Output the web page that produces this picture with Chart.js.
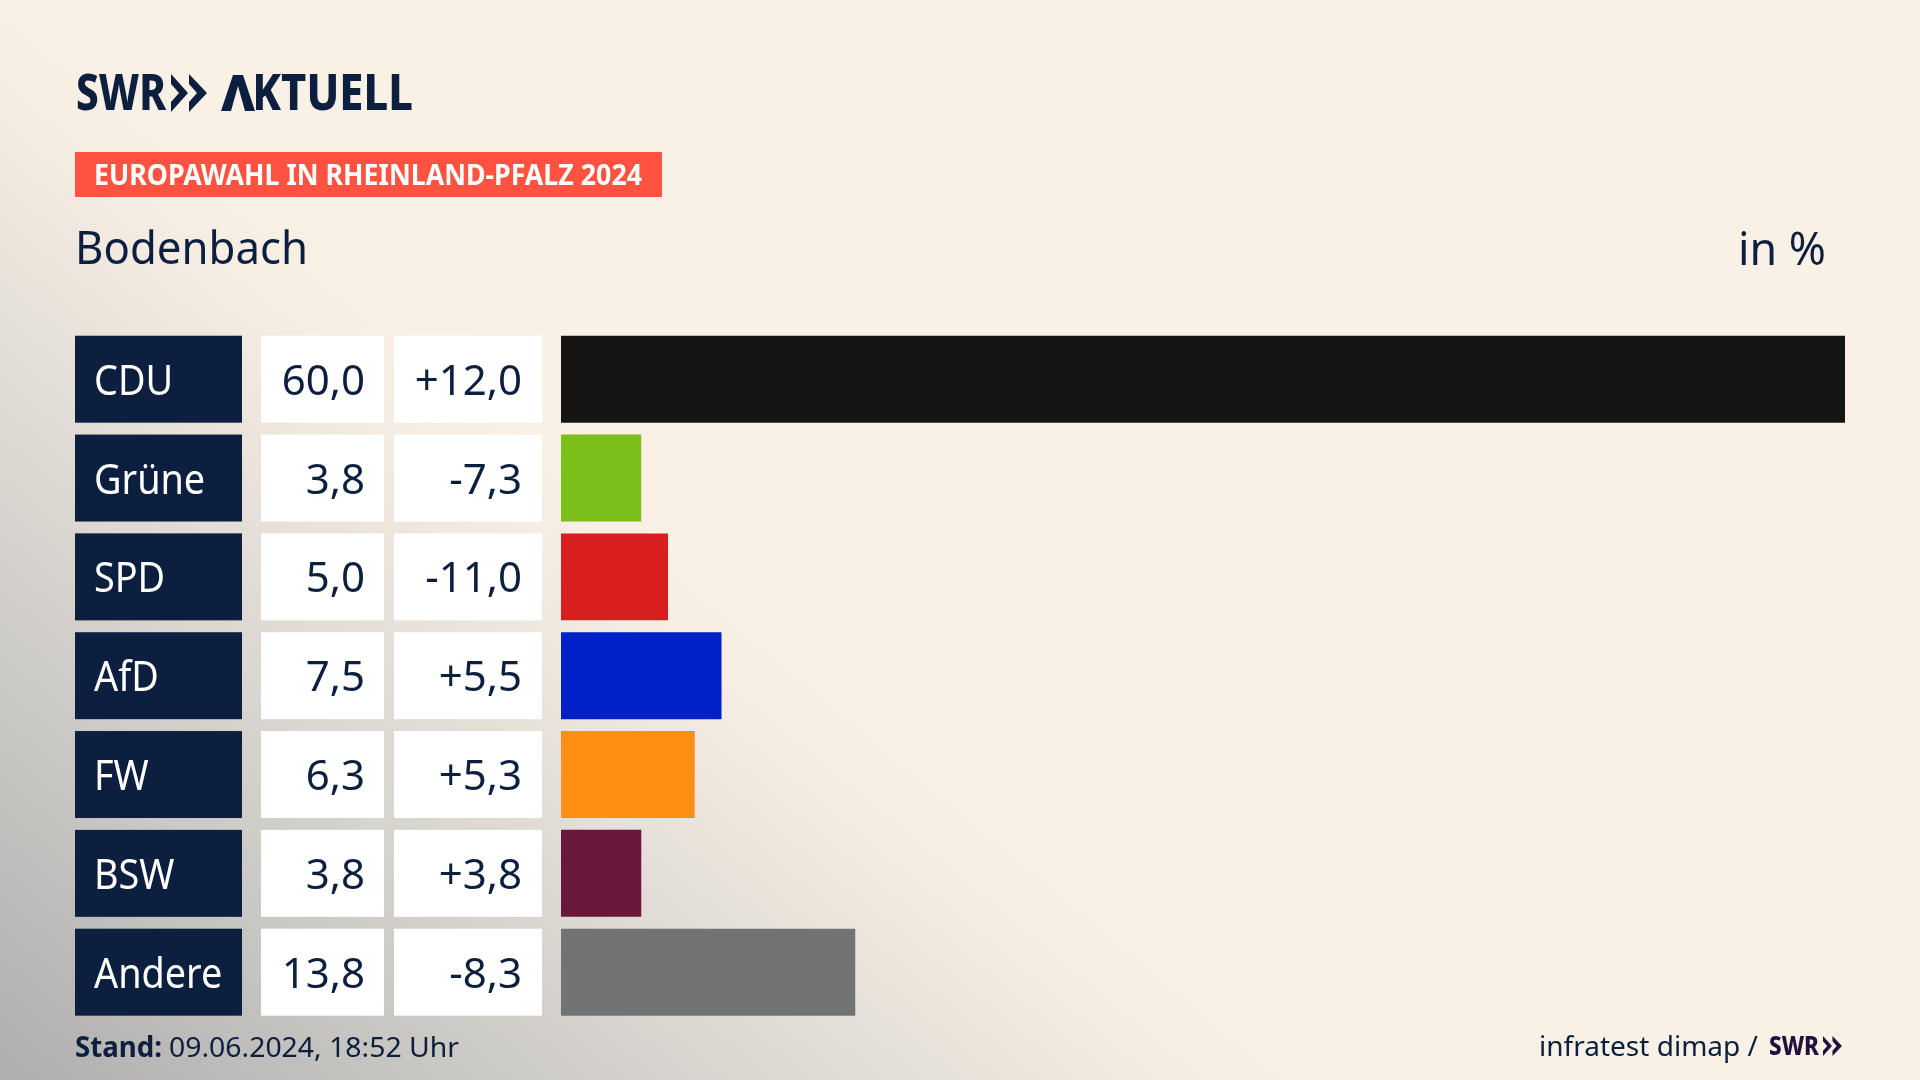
<!DOCTYPE html>
<html lang="de">
<head>
<meta charset="utf-8">
<title>Europawahl in Rheinland-Pfalz 2024 - Bodenbach</title>
<script src="https://cdn.jsdelivr.net/npm/chart.js@4"></script>
<style>
  html, body { margin: 0; padding: 0; }
  body {
    width: 1920px; height: 1080px; overflow: hidden; position: relative;
    font-family: "Noto Sans", sans-serif; color: #0c1f3f;
    background: linear-gradient(219.7deg, #faf1e6 1180px, #f5ede3 1300px, #e8e2da 1435px, #cbc9c5 1748px, #aeaeae 2060px);
  }
  canvas { position: absolute; left: 0; top: 0; }
  .t { position: absolute; white-space: nowrap; transform-origin: 0 0; line-height: 1; }
  #badge { position: absolute; left: 75px; top: 152px; width: 587px; height: 45px; background: #ff5240; }
  svg { position: absolute; }
</style>
</head>
<body>
<div id="badge"></div>
<canvas id="chart" width="1920" height="1080"></canvas>

<div class="t" data-w="90" style="left:76px;top:66px;font-size:50px;font-weight:800">SWR</div>
<svg style="left:171px;top:74px" width="38" height="38" viewBox="0 0 38 38"><path d="M0 0 L17 19 L0 38 L0 28 L8 19 L0 10Z M18 0 L36 19 L18 38 L18 28 L26 19 L18 10Z" fill="#0c1f3f"/></svg>
<div class="t" data-w="192" style="left:221px;top:66px;font-size:50px;font-weight:800">AKTUELL</div>
<!-- the logo's A has no crossbar -->
<svg style="left:218px;top:70px" width="40" height="44" viewBox="218 70 40 44"><rect x="218" y="70" width="38" height="44" fill="#faf1e6"/><path d="M221 111 L233 75 L243 75 L255 111 L245 111 L238 86 L231 111Z" fill="#0c1f3f"/></svg>

<div class="t" data-w="548" style="left:94px;top:160px;font-size:28px;font-weight:700;color:#fff">EUROPAWAHL IN RHEINLAND-PFALZ 2024</div>
<div class="t" data-w="233" style="left:75px;top:224px;font-size:45px">Bodenbach</div>
<div class="t" data-w="88" style="left:1738px;top:225px;font-size:45px">in %</div>

<div class="t" data-w="87" style="left:75px;top:1032px;font-size:28px;font-weight:700">Stand:</div>
<div class="t" data-w="290" style="left:169px;top:1032px;font-size:28px">09.06.2024, 18:52 Uhr</div>
<div class="t" data-w="219" style="left:1539px;top:1031px;font-size:28px">infratest dimap /</div>
<div class="t" data-w="50" style="left:1769px;top:1031px;font-size:27px;font-weight:800;color:#22103f">SWR</div>
<svg style="left:1823px;top:1036px" width="20" height="20" viewBox="0 0 38 38"><path d="M0 0 L17 19 L0 38 L0 28 L8 19 L0 10Z M18 0 L36 19 L18 38 L18 28 L26 19 L18 10Z" fill="#22103f"/></svg>

<script>
const parties = ['CDU', 'Grüne', 'SPD', 'AfD', 'FW', 'BSW', 'Andere'];
const shares = [60.0, 3.75, 5.0, 7.5, 6.25, 3.75, 13.75];
const changes = [12.0, -7.3, -11.0, 5.5, 5.3, 3.8, -8.3];
const partyColors = ['#141414', '#7bbf1a', '#d81f1d', '#0021c8', '#ff8f14', '#6a173c', '#727374'];

const NAVY = '#0c1f3f';
const CELL_FONT = '42px "Noto Sans", sans-serif';

function fmt(n) {
  return n.toFixed(1).replace('.', ',');
}

function fmtChange(n) {
  return (n > 0 ? '+' : '') + fmt(n);
}

// squeeze text a little, the original typeface is narrower than what we have
function drawText(ctx, text, x, y, align, squeeze) {
  ctx.save();
  ctx.translate(x, y);
  ctx.scale(squeeze, 1);
  ctx.textAlign = align;
  ctx.textBaseline = 'alphabetic';
  ctx.fillText(text, 0, 0);
  ctx.restore();
}

// the name and value cells sit left of the bars, one row per category
const tableCells = {
  id: 'tableCells',
  beforeDatasetsDraw(chart) {
    const ctx = chart.ctx;
    const meta = chart.getDatasetMeta(0);
    ctx.font = CELL_FONT;
    parties.forEach((name, i) => {
      const props = meta.data[i].getProps(['y', 'height'], true);
      const top = props.y - props.height / 2;
      const h = props.height;
      const base = props.y + 15.5;

      ctx.fillStyle = NAVY;
      ctx.fillRect(75, top, 167, h);
      ctx.fillStyle = '#fff';
      ctx.fillRect(261, top, 123, h);
      ctx.fillRect(394, top, 148, h);

      drawText(ctx, name, 94, base, 'left', 0.9);
      ctx.fillStyle = NAVY;
      drawText(ctx, fmt(shares[i]), 365, base, 'right', 1);
      drawText(ctx, fmtChange(changes[i]), 522, base, 'right', 1);
    });
  }
};

new Chart(document.getElementById('chart'), {
  type: 'bar',
  data: {
    labels: parties,
    datasets: [{
      data: shares,
      backgroundColor: partyColors,
      borderWidth: 0,
      categoryPercentage: 1,
      barPercentage: 0.88
    }]
  },
  options: {
    indexAxis: 'y',
    responsive: false,
    animation: false,
    layout: { padding: { left: 561, right: 75, top: 329.8, bottom: 58.4 } },
    plugins: { legend: { display: false }, tooltip: { enabled: false } },
    scales: {
      x: { display: false, min: 0, max: 60 },
      y: { display: false }
    }
  },
  plugins: [tableCells]
});

// fit header and footer texts to the measured widths
document.querySelectorAll('.t').forEach(el => {
  const w = el.getBoundingClientRect().width;
  el.style.transform = 'scaleX(' + (Number(el.dataset.w) / w) + ')';
});
</script>
</body>
</html>
